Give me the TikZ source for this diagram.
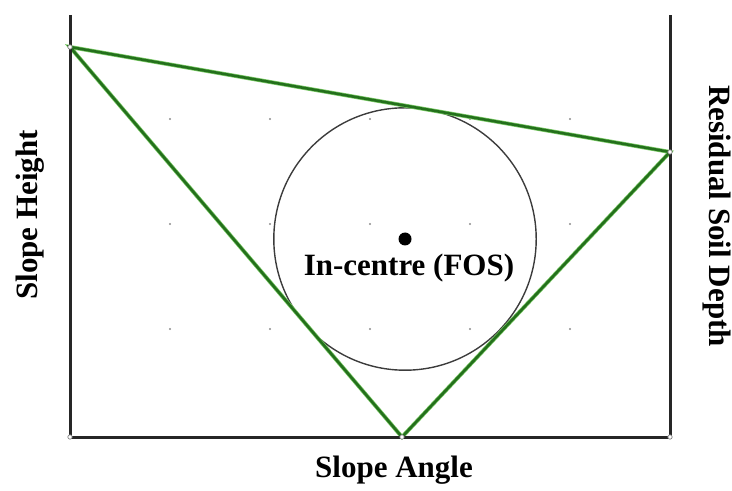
\documentclass[tikz,border=0pt]{standalone}
\usepackage{fontspec}
\setmainfont{Liberation Serif}
\usetikzlibrary{calc}
\definecolor{fosgreen}{RGB}{36,112,28}
\definecolor{foshalo}{RGB}{120,200,100}
\definecolor{fosgrey}{RGB}{60,60,60}

\begin{document}
\begin{tikzpicture}[x=0.5pt,y=-0.5pt,font=\fontsize{15.5}{18}\selectfont\bfseries,
    ax/.style={line width=1.5pt,black!85},
    side/.style={line width=1.3pt,fosgreen,preaction={draw,foshalo,line width=2pt}},
    vtx/.style={circle,draw=gray,fill=white,inner sep=0pt,minimum size=2.2pt,line width=0.35pt},
    gd/.style={circle,fill=gray!90,inner sep=0pt,minimum size=1.2pt}]
    \useasboundingbox (0,0) rectangle (732,491);
    % frame corners and triangle vertices
    \coordinate (lt) at (70,15);
    \coordinate (lb) at (70,437);
    \coordinate (rt) at (670,15);
    \coordinate (rb) at (670,437);
    \coordinate (A) at (70,47);
    \coordinate (B) at (670,152);
    \coordinate (C) at (402,437);
    % background grid
    \foreach \gx in {170,270,370,470,570}
      \foreach \gy in {119,224,329}
        \node[gd] at (\gx,\gy) {};
    \node[circle,fill=black,inner sep=0pt,minimum size=6.5pt] (ic) at (405,239) {};
    \draw[fosgrey,line width=0.7pt] (ic) circle[radius=65.6pt];
    \draw[side] (A)--(B)--(C)--cycle;
    \draw[ax] (lt)--(lb)--(rb)--(rt);
    \foreach \v in {A,B,C,lb,rb} \node[vtx] at (\v) {};
    \node (fos) at (409,268) {In-centre (FOS)};
    \node (xl) at (394,470) {Slope Angle};
    \node[rotate=90] (yl) at (30,215) {Slope Height};
    \node[rotate=-90] (yr) at (717,216) {Residual Soil Depth};
  \end{tikzpicture}
\end{document}
